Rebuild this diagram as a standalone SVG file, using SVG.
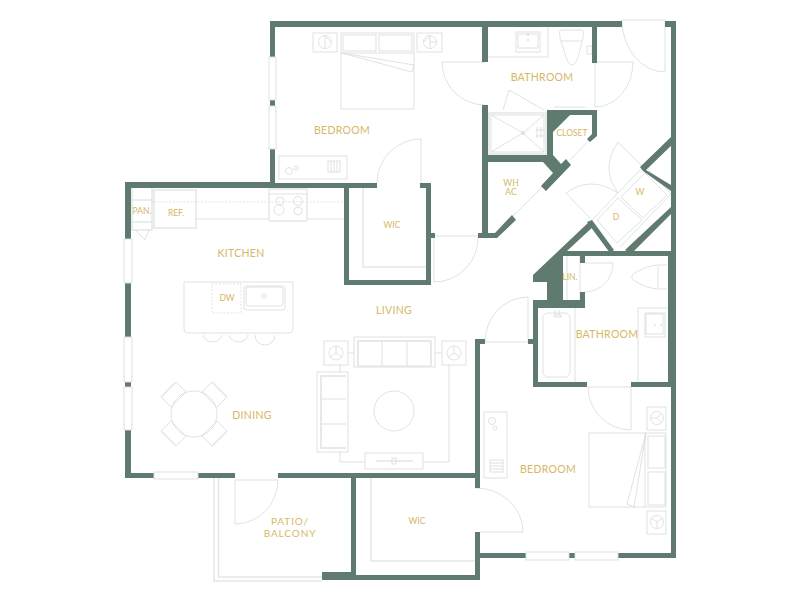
<svg xmlns="http://www.w3.org/2000/svg" width="800" height="600" viewBox="0 0 800 600">
<style>
.w{fill:#5f7a6f;stroke:none}
.l{fill:none;stroke:#d5dcd9;stroke-width:.8}
.h{fill:none;stroke:#e2e7e5;stroke-width:1.5}
.d{fill:none;stroke:#d3dbd8;stroke-width:.7;stroke-dasharray:2 1.5}
.win{fill:#fff;stroke:#d9e0dd;stroke-width:.9}
.t{font-family:"Lato","Liberation Sans",sans-serif;fill:#d6b865;font-size:10.5px;letter-spacing:.3px;text-anchor:middle}
.s{font-size:8.5px;letter-spacing:0}
.p{font-size:10px;letter-spacing:.9px}
</style>
<rect width="800" height="600" fill="#fff"/>
<g id="fixtures">
<!-- doors -->
<path class="l" d="M377 183A44 44 0 0 1 421 139V183"/>
<path class="l" d="M442 62H485M442 62A43 43 0 0 0 485 105"/>
<path class="l" d="M595 62V107M595 62H633A38 45 0 0 1 595 107"/>
<path class="l" d="M622 20H665V72A43 52 0 0 1 622 20"/>
<path class="l" d="M435 236H478A44 44 0 0 1 434 282V238"/>
<path class="l" d="M618 142L643 167M618 142Q600 168 618 193M566 193L590 218M566 193Q590 175 618 193"/>
<path class="l" d="M585 263H613A28 29 0 0 1 585 292"/>
<path class="l" d="M485 342H528V297A43 45 0 0 0 485 342"/>
<path class="l" d="M588 387H631V430A43 43 0 0 1 588 387"/>
<path class="l" d="M475 488A47 44 0 0 1 523 532H480"/>
<path class="l" d="M235 480H278A43 44 0 0 1 235 524Z"/>
<!-- door lines on diagonal -->
<path class="l" d="M512 217L542 187M570 160L591 138"/>
<!-- bathroom 1 -->
<path class="l" d="M488 57H548V27"/>
<rect class="l" x="516" y="32" width="24" height="20"/><rect class="l" x="518" y="34" width="20" height="14"/>
<circle class="l" cx="528" cy="35" r=".8"/><circle class="l" cx="528" cy="40" r=".8"/>
<path class="l" d="M561 30H582Q584 30 583 38Q581 45 580 50Q576 65 572 65Q567 65 564 50Q562 45 560 38Q559 30 561 30ZM561 41H582"/>
<rect class="l" x="587" y="46" width="5" height="8"/>
<path class="l" d="M503 110L509 90L544 110M554 107H585"/>
<!-- shower -->
<rect class="h" x="489" y="113" width="57" height="41"/><rect class="l" x="491" y="115" width="53" height="37"/>
<path class="l" d="M491 115L523 133L544 115M491 152L523 133L544 152"/>
<circle class="l" cx="523" cy="133" r="1.500"/>
<path class="l" d="M537 127V138M541 127V138M536 130H545M536 136H545"/>
<!-- W/D -->
<path class="l" d="M645 173L667 195L643 218L621 197ZM618 198L642 220L617 243L597 220Z"/>
<path class="l" d="M648 169L671 194L644 222L620 247M643 167L590 222"/>
<!-- LIN -->
<path class="l" d="M567 256V300M580 256V300"/>
<!-- bathroom 2 -->
<path class="l" d="M667 265H658Q648 265 633 274Q630 277 633 280Q648 289 658 289H667"/>
<path class="l" d="M658 266V288"/>
<path class="l" d="M668 308H638V382"/>
<rect class="l" x="645" y="313" width="20" height="24"/><rect class="l" x="646" y="314" width="17" height="20"/>
<circle class="l" cx="655" cy="325" r=".6"/><circle class="l" cx="661" cy="325" r=".6"/>
<rect class="l" x="543" y="313" width="27" height="64" rx="5"/>
<path class="l" d="M575 308V382M555 310V315M559 310V315M554 317H561V315H554Z"/>
<!-- bedroom 1 -->
<rect class="l" x="341" y="33" width="73" height="76"/>
<path class="l" d="M341 53H414M342 53L414 65L412 72Z"/>
<rect class="l" x="343" y="35" width="33" height="16"/><rect class="l" x="379" y="35" width="33" height="16"/>
<rect class="l" x="313" y="33" width="24" height="19"/><circle class="l" cx="325" cy="42" r="6.500"/><path class="l" d="M331 42L325 36V48"/>
<rect class="l" x="417" y="33" width="25" height="19"/><circle class="l" cx="430" cy="42" r="6.500"/><path class="l" d="M424 42L430 36V48M430 42H436"/>
<rect class="l" x="279" y="156" width="68" height="23"/>
<circle class="l" cx="289" cy="171" r="3.500"/><circle class="l" cx="296" cy="168" r="2"/>
<rect class="l" x="328" y="161" width="12" height="11"/><path class="l" d="M331 161V172M334 161V172M337 161V172"/>
<!-- WIC lines -->
<path class="h" d="M363 188V267H426"/>
<path class="h" d="M371 478V561H475"/>
<!-- kitchen -->
<path class="h" d="M132 200H152M132 222H152M132 188V230H152V188"/>
<path class="l" d="M135 230L145 240L149 230"/>
<rect class="h" x="154" y="190" width="42" height="38"/>
<path class="l" d="M196 219H269M307 219H344"/>
<path class="d" d="M152 202H344"/>
<rect class="h" x="269" y="189" width="38" height="32" rx="1"/>
<path class="l" d="M269 194H307"/>
<circle class="l" cx="280" cy="201" r="4"/><circle class="l" cx="298" cy="201" r="4.500"/><circle class="l" cx="279" cy="210" r="5"/><circle class="l" cx="298" cy="211" r="4"/>
<path class="l" d="M184 282H293V329Q293 333 289 333H188Q184 333 184 329Z"/>
<rect class="d" x="212" y="284" width="29" height="29"/>
<rect class="l" x="244" y="286" width="41" height="24" rx="2"/><rect class="l" x="246" y="287" width="37" height="19" rx="3"/>
<circle class="l" cx="264" cy="296" r="2"/>
<path class="l" d="M203 335A10 10 0 0 0 222 335M229 335A10 10 0 0 0 248 335M255 335A10 10 0 0 0 275 335"/>
<!-- dining -->
<circle class="l" cx="194" cy="414" r="23"/>
<path class="l" d="M161 397L176 382L186 392L171 407ZM227 397L212 382L202 392L217 407ZM161 431L176 446L186 436L171 421ZM227 431L212 446L202 436L217 421Z"/>
<path class="h" d="M161 397L176 382M227 397L212 382M161 431L176 446M227 431L212 446"/>
<!-- living -->
<rect class="l" x="354" y="337" width="81" height="30"/>
<path class="l" d="M358 366V341H431V366H358M382 341V366M407 341V366"/><path class="h" d="M358 366V341H431V366"/>
<rect class="l" x="324" y="341" width="24" height="24"/><circle class="l" cx="336" cy="353" r="7"/><path class="l" d="M336 353V346M336 353L330 357M336 353L342 357"/>
<rect class="l" x="442" y="341" width="24" height="24"/><circle class="l" cx="454" cy="353" r="7"/><path class="l" d="M454 353V346M454 353L448 357M454 353L460 357"/>
<path class="l" d="M348 353H354M435 353H442M449 365V462H423M340 365V372M340 452V462H365"/>
<rect class="l" x="317" y="372" width="31" height="80"/>
<path class="l" d="M346 376H321V448H346M321 399H346M321 424H346"/><path class="h" d="M346 376H321V448H346"/>
<rect class="l" x="365" y="453" width="58" height="16"/>
<path class="h" d="M376 461H413"/><rect class="l" x="392" y="458" width="4" height="6"/>
<circle class="l" cx="394" cy="411" r="20"/>
<!-- bedroom 2 -->
<rect class="l" x="589" y="433" width="77" height="74"/>
<path class="l" d="M645 433V507M646 433L627 504L634 507Z"/>
<rect class="l" x="648" y="436" width="17" height="32"/><rect class="l" x="648" y="472" width="17" height="33"/>
<rect class="l" x="647" y="407" width="19" height="23"/><circle class="l" cx="657" cy="418" r="6.500"/><path class="l" d="M651 418H657L662 413M657 418L662 423"/>
<rect class="l" x="647" y="511" width="19" height="23"/><circle class="l" cx="657" cy="522" r="6.500"/><path class="l" d="M651 518L657 522L663 518M657 522V528"/>
<rect class="l" x="484" y="412" width="23" height="66"/>
<circle class="l" cx="492" cy="421" r="3.500"/><circle class="l" cx="495" cy="428" r="2"/>
<rect class="l" x="490" y="460" width="13" height="12"/><path class="l" d="M490 463H503M490 466H503M490 469H503"/>
<!-- patio -->
<path class="h" d="M214 478V581H322M218.500 478V577H322"/>
</g>
<g id="walls">
<path class="w" d="M270 21H622V27H275V57H270ZM665 21H676V558H475V532H480V553H671V256H563V251H671V27H665ZM270 100H275V106H270ZM270 149H275V183H377V188H131V239H125V182H270ZM482 27H488V62H482ZM592 27H597V63H592Z"/>
<path class="w" d="M482 105H488V155H547V110H597V136L590 142L587 139L592 134V115H570L553 132V155L561 164L566 159L571 165L546 191L541 186L553 173L543 162H488V233H495L512 215L516 220L497 238H478V233H482Z"/>
<path class="w" d="M344 188H349V280H426V188H420V183H431V233H435V238H431V285H344Z"/>
<path class="w" d="M125 283H131V337H125ZM125 382H131V387H125ZM125 430H131V473H154V478H125ZM198 473H235V478H198ZM278 473H475V339H485V344H480V488H475V478H356V575H475V532H480V580H322V572H351V478H278Z"/>
<path class="w" d="M671 137L675 142L646 170L671 185V191L643 171L640 167ZM671 207V214L631 254L625 250ZM587 222L592 220L614 250L610 253Z"/>
<path class="w" d="M590 221L533 275V282H547V300H533V308H585V292H580V300H563V255L568 250L595 225Z"/>
<path class="w" d="M533 308H538V382H587V387H533ZM631 382H671V387H631ZM580 256H585V263H580ZM528 339H533V344H528ZM668 256H676V385H668Z"/>
<rect class="w" x="569" y="553" width="6" height="5"/>
</g>
<g id="windows">
<rect class="win" x="269" y="57" width="7" height="43"/><rect class="win" x="269" y="106" width="7" height="43"/>
<rect class="win" x="124" y="239" width="8" height="44"/><rect class="win" x="124" y="337" width="8" height="45"/><rect class="win" x="124" y="387" width="8" height="43"/>
<rect class="win" x="154" y="472" width="44" height="7"/>
<rect class="win" x="526" y="552" width="43" height="8"/><rect class="win" x="575" y="552" width="43" height="8"/>
</g>
<g id="labels">
<text class="t" x="342" y="134">BEDROOM</text>
<text class="t" x="542" y="81">BATHROOM</text>
<text class="t s" x="572" y="136">CLOSET</text>
<text class="t s" x="511" y="186">WH</text>
<text class="t s" x="511" y="195">AC</text>
<text class="t s" x="640" y="195">W</text>
<text class="t s" x="616" y="220">D</text>
<text class="t s" x="392" y="228">WIC</text>
<text class="t s" x="142" y="214">PAN.</text>
<text class="t s" x="176" y="216">REF.</text>
<text class="t" x="241" y="257">KITCHEN</text>
<text class="t s" x="227" y="301">DW</text>
<text class="t" x="394" y="314">LIVING</text>
<text class="t s" x="570" y="280">LIN.</text>
<text class="t" x="607" y="338">BATHROOM</text>
<text class="t" x="252" y="419">DINING</text>
<text class="t" x="548" y="473">BEDROOM</text>
<text class="t s" x="417" y="524">WIC</text>
<text class="t p" x="290" y="525">PATIO/</text>
<text class="t p" x="290" y="537">BALCONY</text>
</g>
</svg>
